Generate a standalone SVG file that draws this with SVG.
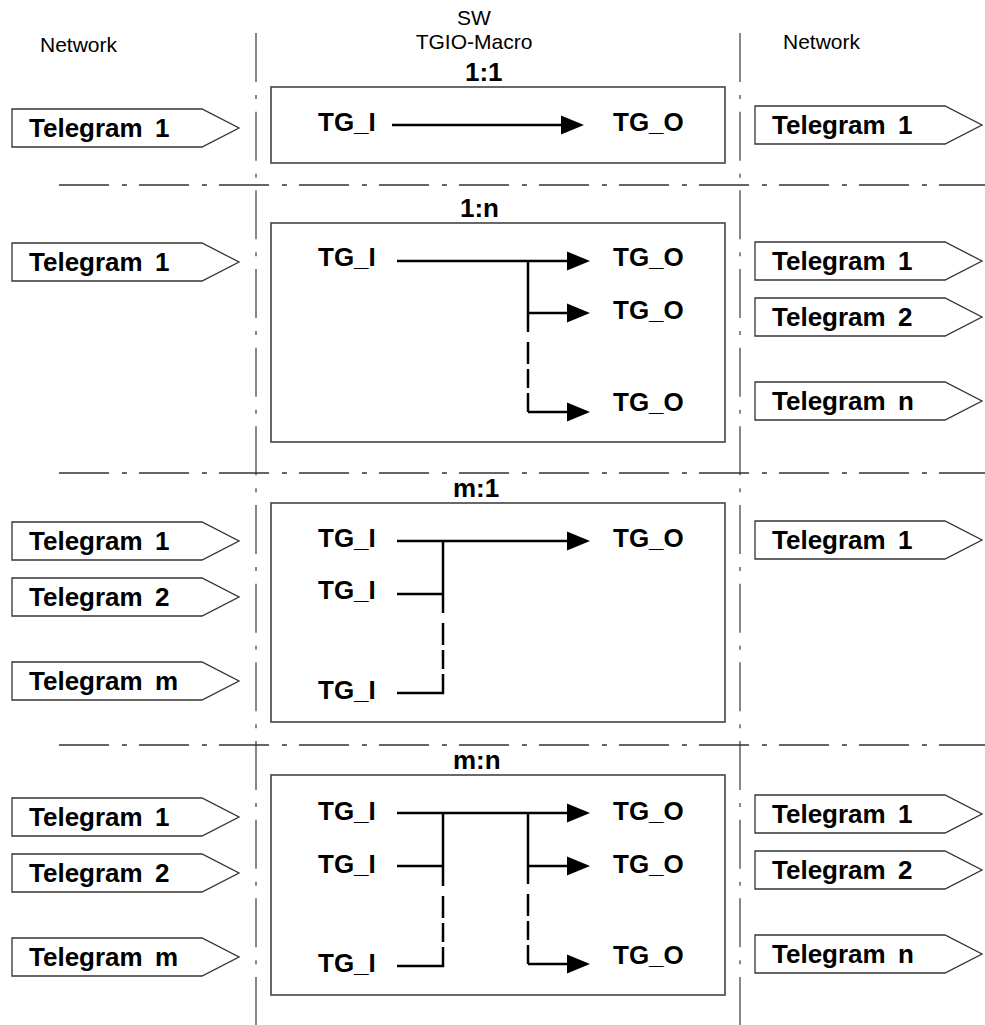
<svg xmlns="http://www.w3.org/2000/svg" width="985" height="1025" viewBox="0 0 985 1025">
  <style>
    .bg { fill: #ffffff; }
    .lbl { font-family: "Liberation Sans", Arial, sans-serif; font-size: 21px; fill: #000; }
    .tg { font-family: "Liberation Sans", Arial, sans-serif; font-size: 26px; font-weight: bold; fill: #000; word-spacing: 5px; }
    .io { font-family: "Liberation Sans", Arial, sans-serif; font-size: 26px; font-weight: bold; fill: #000; }
    .title { font-family: "Liberation Sans", Arial, sans-serif; font-size: 26px; font-weight: bold; fill: #000; }
    .tel { fill: #fff; stroke: #333; stroke-width: 1.3; }
    .box { fill: none; stroke: #444; stroke-width: 1.6; }
    .vsep { fill: none; stroke: #555; stroke-width: 1.4; stroke-dasharray: 49 13 4 12.67; }
    .hsep { fill: none; stroke: #333; stroke-width: 1.3; stroke-dasharray: 50 13 5 12; }
    .wire { fill: none; stroke: #000; stroke-width: 2.5; }
    .arr { fill: none; stroke: #000; stroke-width: 2.5; marker-end: url(#head); }
  </style>
  <defs>
    <marker id="head" markerUnits="userSpaceOnUse" markerWidth="25" markerHeight="22" viewBox="0 0 25 22" refX="2" refY="11" orient="auto">
      <path d="M0,1.5 L23,11 L0,20.5 Z" fill="#000"/>
    </marker>
    <!-- telegram tag shape, origin at top-left -->
    <path id="tag" d="M0,0 H190 L227,19 L190,38 H0 Z"/>
  </defs>

  <rect class="bg" x="0" y="0" width="985" height="1025"/>

  <!-- column and row separators -->
  <g id="separators">
    <line class="vsep" x1="256" y1="33" x2="256" y2="1025"/>
    <line class="vsep" x1="740" y1="33" x2="740" y2="1025"/>
    <line class="hsep" x1="59" y1="185" x2="985" y2="185"/>
    <line class="hsep" x1="59" y1="473" x2="985" y2="473"/>
    <line class="hsep" x1="59" y1="745" x2="985" y2="745"/>
  </g>

  <!-- column headings -->
  <g id="headings">
    <text class="lbl" x="40" y="52">Network</text>
    <text class="lbl" x="474" y="25" text-anchor="middle">SW</text>
    <text class="lbl" x="474" y="49" text-anchor="middle">TGIO-Macro</text>
    <text class="lbl" x="783" y="49">Network</text>
  </g>

  <!-- 1:1 -->
  <g id="macro-1-1">
    <text class="title" x="465" y="81">1:1</text>
    <rect class="box" x="271" y="87" width="454" height="76"/>
    <text class="io" x="318" y="131">TG_I</text>
    <text class="io" x="613" y="131">TG_O</text>
  </g>
  <g id="in-1-1-t1"><use href="#tag" class="tel" x="12" y="109"/><text class="tg" x="29" y="137">Telegram 1</text></g>
  <g id="out-1-1-t1"><use href="#tag" class="tel" x="755" y="106"/><text class="tg" x="772" y="134">Telegram 1</text></g>

  <!-- 1:n -->
  <g id="macro-1-n">
    <text class="title" x="460" y="217">1:n</text>
    <rect class="box" x="271" y="223" width="454" height="219"/>
    <text class="io" x="318" y="266">TG_I</text>
    <text class="io" x="613" y="266">TG_O</text>
    <text class="io" x="613" y="319">TG_O</text>
    <text class="io" x="613" y="411">TG_O</text>
  </g>
  <g id="in-1-n-t1"><use href="#tag" class="tel" x="12" y="243"/><text class="tg" x="29" y="271">Telegram 1</text></g>
  <g id="out-1-n-t1"><use href="#tag" class="tel" x="755" y="242"/><text class="tg" x="772" y="270">Telegram 1</text></g>
  <g id="out-1-n-t2"><use href="#tag" class="tel" x="755" y="298"/><text class="tg" x="772" y="326">Telegram 2</text></g>
  <g id="out-1-n-tn"><use href="#tag" class="tel" x="755" y="382"/><text class="tg" x="772" y="410">Telegram n</text></g>

  <!-- m:1 -->
  <g id="macro-m-1">
    <text class="title" x="453" y="497">m:1</text>
    <rect class="box" x="271" y="503" width="454" height="219"/>
    <text class="io" x="318" y="547">TG_I</text>
    <text class="io" x="318" y="599">TG_I</text>
    <text class="io" x="318" y="699">TG_I</text>
    <text class="io" x="613" y="547">TG_O</text>
  </g>
  <g id="in-m-1-t1"><use href="#tag" class="tel" x="12" y="522"/><text class="tg" x="29" y="550">Telegram 1</text></g>
  <g id="in-m-1-t2"><use href="#tag" class="tel" x="12" y="578"/><text class="tg" x="29" y="606">Telegram 2</text></g>
  <g id="in-m-1-tm"><use href="#tag" class="tel" x="12" y="662"/><text class="tg" x="29" y="690">Telegram m</text></g>
  <g id="out-m-1-t1"><use href="#tag" class="tel" x="755" y="521"/><text class="tg" x="772" y="549">Telegram 1</text></g>

  <!-- m:n -->
  <g id="macro-m-n">
    <text class="title" x="453" y="769">m:n</text>
    <rect class="box" x="271" y="775" width="454" height="220"/>
    <text class="io" x="318" y="820">TG_I</text>
    <text class="io" x="318" y="873">TG_I</text>
    <text class="io" x="318" y="972">TG_I</text>
    <text class="io" x="613" y="820">TG_O</text>
    <text class="io" x="613" y="873">TG_O</text>
    <text class="io" x="613" y="964">TG_O</text>
  </g>
  <g id="in-m-n-t1"><use href="#tag" class="tel" x="12" y="798"/><text class="tg" x="29" y="826">Telegram 1</text></g>
  <g id="in-m-n-t2"><use href="#tag" class="tel" x="12" y="854"/><text class="tg" x="29" y="882">Telegram 2</text></g>
  <g id="in-m-n-tm"><use href="#tag" class="tel" x="12" y="938"/><text class="tg" x="29" y="966">Telegram m</text></g>
  <g id="out-m-n-t1"><use href="#tag" class="tel" x="755" y="795"/><text class="tg" x="772" y="823">Telegram 1</text></g>
  <g id="out-m-n-t2"><use href="#tag" class="tel" x="755" y="851"/><text class="tg" x="772" y="879">Telegram 2</text></g>
  <g id="out-m-n-tn"><use href="#tag" class="tel" x="755" y="935"/><text class="tg" x="772" y="963">Telegram n</text></g>

  <!-- signal routing inside the macros -->
  <g id="connectors">
    <!-- 1:1 -->
    <path class="arr" d="M392,125 H563"/>
    <!-- 1:n -->
    <path class="arr" d="M397,261 H569"/>
    <path class="arr" d="M528,313 H569"/>
    <path class="wire" d="M528,261 V332 M528,342 V364 M528,369 V388 M528,393 V412"/>
    <path class="arr" d="M528,412 H569"/>
    <!-- m:1 -->
    <path class="arr" d="M397,541 H569"/>
    <path class="wire" d="M397,594 H443"/>
    <path class="wire" d="M443,541 V613 M443,623 V645 M443,650 V669 M443,674 V693 H397"/>
    <!-- m:n -->
    <path class="arr" d="M397,813 H569"/>
    <path class="wire" d="M397,866 H443"/>
    <path class="wire" d="M443,813 V886 M443,896 V918 M443,923 V942 M443,947 V966 H397"/>
    <path class="arr" d="M528,866 H569"/>
    <path class="wire" d="M528,813 V884 M528,894 V916 M528,921 V940 M528,945 V964"/>
    <path class="arr" d="M528,964 H569"/>
  </g>
</svg>
